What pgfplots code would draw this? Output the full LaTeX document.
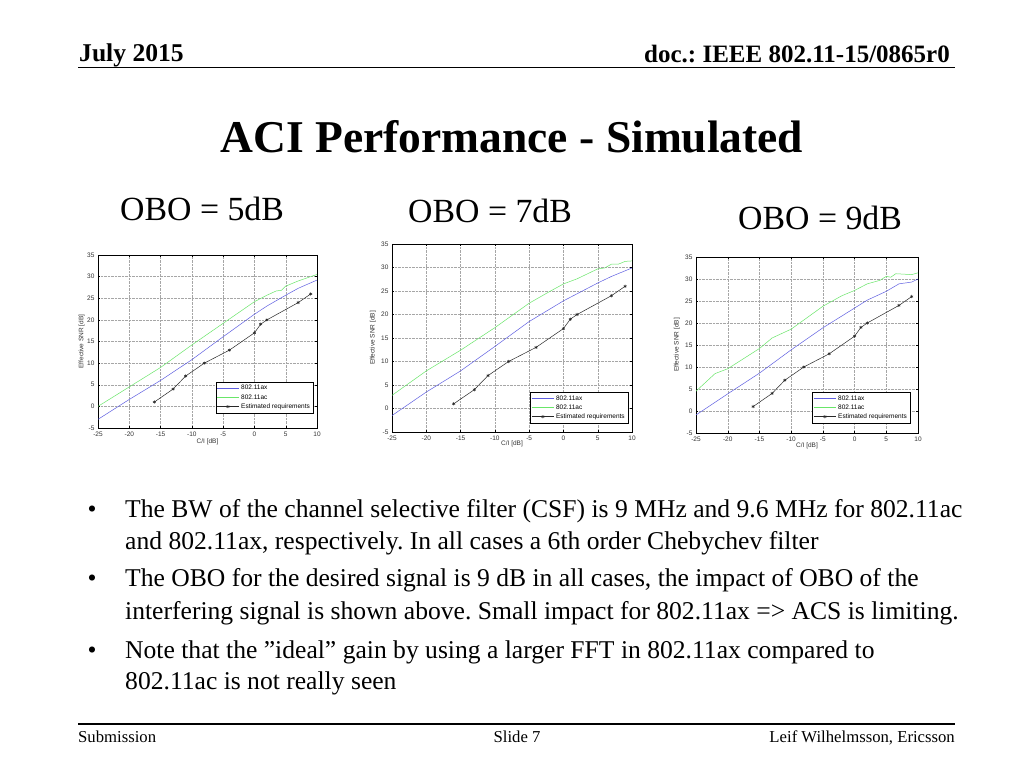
\documentclass[border=0pt]{standalone}
\usepackage{fontspec}
\setmainfont{Liberation Serif}
\newfontfamily\plotfont{Liberation Sans}
\usepackage{pgfplots}
\pgfplotsset{compat=1.18}

\definecolor{axblue}{RGB}{95,95,225}
\definecolor{acgreen}{RGB}{105,230,105}
\definecolor{reqblack}{RGB}{40,40,40}

\newcommand{\plotsize}{\plotfont\fontsize{6.5}{7}\selectfont}

\pgfplotsset{
  aciplot/.style={
    scale only axis,
    anchor=south west,
    xmin=-25, xmax=10, ymin=-5, ymax=35,
    xtick={-25,-20,...,10}, ytick={-5,0,...,35},
    grid=major,
    major grid style={densely dotted, gray!70, line width=0.35pt},
    tick align=inside,
    major tick length=2pt,
    axis line style={line width=0.4pt},
    every tick/.style={black, line width=0.4pt},
    tick label style={font=\plotsize, text=black!80},
    /pgf/number format/assume math mode=true,
    label style={font=\plotsize, text=black!80},
    xlabel={C/I [dB]},
    ylabel={Effective SNR [dB]},
    legend cell align=left,
    legend image code/.code={
      \draw[mark repeat=2, mark phase=2, ##1] plot coordinates {(0pt,0pt) (11pt,0pt) (22pt,0pt)};},
    legend style={font=\plotsize, draw=black, line width=0.4pt,
      inner sep=1pt, row sep=-1pt, anchor=south east},
  },
  req/.style={reqblack, line width=0.5pt, mark=asterisk, mark size=1.6pt},
}

\begin{document}
\frenchspacing
\begin{tikzpicture}
\useasboundingbox (0pt,0pt) rectangle (1024pt,768pt);
\fill[white] (0pt,0pt) rectangle (1024pt,768pt);

% header
\node[anchor=base west, inner sep=0] at (79pt,706pt) {\fontsize{25.6}{30}\selectfont\bfseries July 2015};
\node[anchor=base east, inner sep=0] at (950pt,705pt) {\fontsize{25}{30}\selectfont\bfseries doc.: IEEE 802.11-15/0865r0};
\draw[line width=1.5pt] (78pt,700.5pt) -- (955pt,700.5pt);

% title
\node[anchor=base, inner sep=0] at (512pt,615pt) {\fontsize{45.5}{50}\selectfont\bfseries ACI Performance - Simulated};

\node[anchor=base west, inner sep=0] at (120pt,547pt) {\fontsize{33.8}{38}\selectfont OBO = 5dB};
\node[anchor=base west, inner sep=0] at (408pt,545pt) {\fontsize{33.8}{38}\selectfont OBO = 7dB};
\node[anchor=base west, inner sep=0] at (738pt,538pt) {\fontsize{33.8}{38}\selectfont OBO = 9dB};

% OBO = 5 dB
\begin{axis}[aciplot, at={(98pt,340pt)}, width=219pt, height=173pt,
  xlabel style={at={(axis description cs:0.5,-0.081)}, anchor=center},
  ylabel style={at={(axis description cs:-0.075,0.5)}, anchor=center},
  legend style={at={(rel axis cs:0.982,0.087)}}]
\addplot[axblue, line width=0.5pt] coordinates {
  (-25,-3.0) (-20,1.6) (-15,6.0) (-10,10.8) (-5,16.1) (0,21.3) (2,23.2) (5,25.7) (7,27.3) (10,29.2)};
\addplot[acgreen, line width=0.5pt] coordinates {
  (-25,0.0) (-20,4.5) (-15,9.0) (-10,14.2) (-5,19.2) (0,24.2) (2,25.7) (3.5,26.7) (4.3,26.8) (5,27.8) (7,29.0) (10,30.5)};
\addplot[req] coordinates {
  (-16,1) (-13,4) (-11,7) (-8,10) (-4,13) (0,17) (1,19) (2,20) (7,24) (9,26)};
\legend{802.11ax, 802.11ac, Estimated requirements}
\end{axis}

% OBO = 7 dB
\begin{axis}[aciplot, at={(392pt,336pt)}, width=240pt, height=188pt,
  xlabel style={at={(axis description cs:0.5,-0.062)}, anchor=center},
  ylabel style={at={(axis description cs:-0.079,0.5)}, anchor=center},
  legend style={at={(rel axis cs:0.983,0.048)}}]
\addplot[axblue, line width=0.5pt] coordinates {
  (-25,-1.5) (-20,3.5) (-15,8.0) (-10,13.2) (-5,18.5) (0,22.9) (5,26.7) (7,28.1) (10,29.9)};
\addplot[acgreen, line width=0.5pt] coordinates {
  (-25,2.8) (-20,8.0) (-15,12.4) (-10,17.2) (-5,22.4) (-2,24.9) (0,26.5) (2,27.6) (5,29.7) (6,29.9) (7,30.7) (8,30.7) (9,31.3) (10,31.4)};
\addplot[req] coordinates {
  (-16,1) (-13,4) (-11,7) (-8,10) (-4,13) (0,17) (1,19) (2,20) (7,24) (9,26)};
\legend{802.11ax, 802.11ac, Estimated requirements}
\end{axis}

% OBO = 9 dB
\begin{axis}[aciplot, at={(696pt,335pt)}, width=222pt, height=176pt,
  xlabel style={at={(axis description cs:0.5,-0.075)}, anchor=center},
  ylabel style={at={(axis description cs:-0.086,0.5)}, anchor=center},
  legend style={at={(rel axis cs:0.964,0.057)}}]
\addplot[axblue, line width=0.5pt] coordinates {
  (-25,-0.9) (-20,3.9) (-15,8.6) (-10,13.9) (-5,18.9) (0,23.4) (2,25.2) (5,27.2) (7,28.9) (9,29.3) (10,30.0)};
\addplot[acgreen, line width=0.5pt] coordinates {
  (-25,4.5) (-22,8.5) (-20,9.6) (-15,14.2) (-13,16.6) (-10,18.6) (-5,23.8) (-2,26.2) (0,27.4) (2,28.9) (4,29.7) (5,30.6) (5.7,30.4) (6.5,31.2) (9,31.0) (10,31.4)};
\addplot[req] coordinates {
  (-16,1) (-13,4) (-11,7) (-8,10) (-4,13) (0,17) (1,19) (2,20) (7,24) (9,26)};
\legend{802.11ax, 802.11ac, Estimated requirements}
\end{axis}

% bullets
\begingroup
\fontsize{25.6}{31}\selectfont
\node[anchor=base, inner sep=0] at (92pt,250pt) {•};
\node[anchor=base west, inner sep=0] at (125pt,250pt) {The BW of the channel selective filter (CSF) is 9 MHz and 9.6 MHz for 802.11ac};
\node[anchor=base west, inner sep=0] at (125pt,218pt) {and 802.11ax, respectively. In all cases a 6th order Chebychev filter};
\node[anchor=base, inner sep=0] at (92pt,181pt) {•};
\node[anchor=base west, inner sep=0] at (125pt,181pt) {The OBO for the desired signal is 9 dB in all cases, the impact of OBO of the};
\node[anchor=base west, inner sep=0] at (125pt,149pt) {interfering signal is shown above. Small impact for 802.11ax => ACS is limiting.};
\node[anchor=base, inner sep=0] at (92pt,110pt) {•};
\node[anchor=base west, inner sep=0] at (125pt,110pt) {Note that the ”ideal” gain by using a larger FFT in 802.11ax compared to};
\node[anchor=base west, inner sep=0] at (125pt,79pt) {802.11ac is not really seen};
\endgroup

% footer
\draw[line width=1.5pt] (78pt,44pt) -- (955pt,44pt);
\node[anchor=base west, inner sep=0] at (78pt,26pt) {\fontsize{16.7}{20}\selectfont Submission};
\node[anchor=base, inner sep=0] at (517pt,26pt) {\fontsize{16.7}{20}\selectfont Slide 7};
\node[anchor=base east, inner sep=0] at (955pt,26pt) {\fontsize{16.7}{20}\selectfont Leif Wilhelmsson, Ericsson};
\end{tikzpicture}
\end{document}
